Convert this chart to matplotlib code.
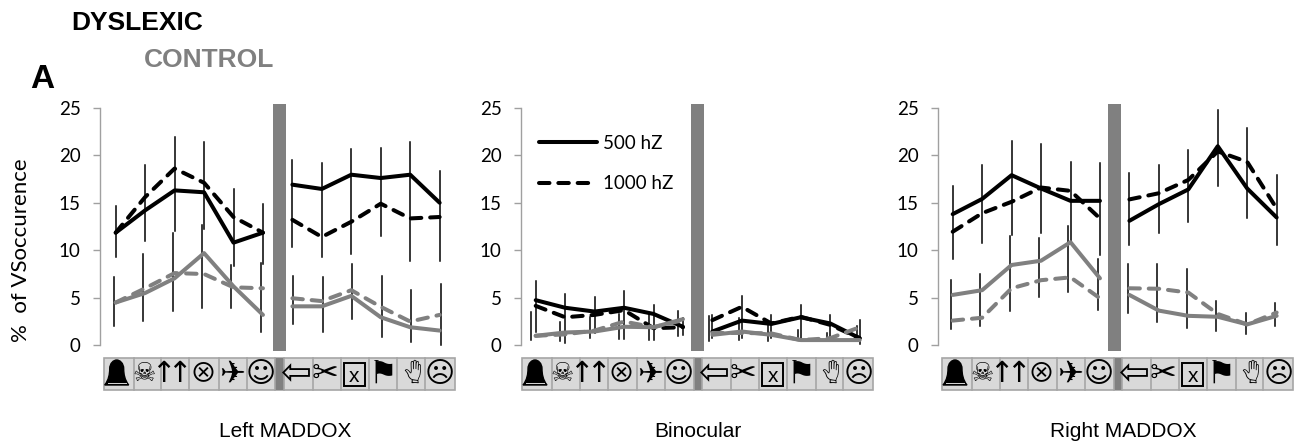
import matplotlib
matplotlib.use('Agg')
import matplotlib.pyplot as plt
from matplotlib.patches import Rectangle, PathPatch
from matplotlib.path import Path

W, H = 1296, 443
BLACK = '#000000'
GRAY = '#808080'

# values: 12 stimuli per panel (6 before and 6 after the gray divider)
left_500 = [11.85, 14.2, 16.3, 16.1, 10.8, 11.85, 16.9, 16.45, 17.95, 17.6, 17.95, 15.0]
left_1000 = [11.85, 15.6, 18.6, 17.1, 13.5, 11.85, 13.2, 11.4, 13.0, 14.9, 13.35, 13.5]
left_ctrl_500 = [4.5, 5.5, 7.05, 9.7, 6.2, 3.2, 4.1, 4.1, 5.2, 2.95, 1.9, 1.55]
left_ctrl_1000 = [4.5, 6.0, 7.6, 7.5, 6.1, 6.0, 4.95, 4.65, 5.8, 4.05, 2.5, 3.2]
left_err_lo = [9.25, 11.0, 12.0, 12.2, 8.3, 8.6, 10.3, 9.25, 9.6, 11.5, 8.9, 8.9]
left_err_hi = [14.7, 19.0, 21.9, 21.35, 16.4, 14.9, 19.5, 19.15, 20.7, 20.8, 21.35, 18.3]
left_ctrl_err_lo = [2.05, 2.6, 3.6, 3.95, 3.95, 1.35, 2.25, 1.35, 2.75, 0.85, 0.3, 0.0]
left_ctrl_err_hi = [7.15, 9.6, 11.8, 12.65, 8.45, 8.7, 7.3, 7.15, 8.55, 7.3, 5.8, 6.45]

bino_500 = [4.75, 3.95, 3.55, 3.95, 3.3, 1.95, 1.45, 2.6, 2.25, 2.95, 2.3, 0.75]
bino_1000 = [4.15, 2.95, 3.2, 3.7, 1.8, 1.9, 2.65, 4.05, 2.3, 3.0, 2.15, 0.75]
bino_ctrl_500 = [1.0, 1.35, 1.45, 1.95, 1.9, 2.75, 1.1, 1.45, 1.1, 0.55, 0.55, 0.55]
bino_ctrl_1000 = [1.0, 1.15, 1.55, 2.5, 1.9, 2.65, 1.3, 1.3, 1.25, 0.55, 0.75, 1.9]
bino_err_lo = [1.45, 0.2, 1.25, 0.65, 0.55, 1.1, 0.75, 0.75, 0.75, 0.75, 0.75, 0.15]
bino_err_hi = [6.8, 5.45, 5.1, 5.75, 4.25, 2.85, 3.2, 5.2, 3.2, 4.25, 3.2, 2.65]
bino_ctrl_err_lo = [0.6, 0.5, 0.8, 0.7, 0.6, 1.0, 0.5, 0.6, 0.5, 0.6, 0.6, 0.4]
bino_ctrl_err_hi = [3.5, 2.4, 3.0, 3.3, 3.3, 3.6, 3.1, 2.9, 2.5, 1.6, 1.3, 2.0]

right_500 = [13.8, 15.4, 17.9, 16.5, 15.2, 15.2, 13.1, 14.85, 16.4, 20.95, 16.5, 13.45]
right_1000 = [11.95, 13.9, 15.1, 16.6, 16.25, 13.35, 15.35, 16.0, 17.4, 20.4, 19.3, 14.4]
right_ctrl_500 = [5.3, 5.8, 8.45, 8.9, 10.85, 7.05, 5.3, 3.65, 3.1, 3.0, 2.2, 3.1]
right_ctrl_1000 = [2.6, 2.9, 6.0, 6.85, 7.15, 4.95, 6.0, 5.95, 5.55, 3.3, 2.2, 3.45]
right_err_lo = [9.05, 10.75, 11.6, 11.85, 11.0, 9.5, 10.55, 11.8, 13.0, 16.75, 13.35, 10.55]
right_err_hi = [16.75, 19.0, 21.5, 21.2, 19.3, 19.15, 18.1, 19.0, 20.5, 24.8, 22.9, 17.9]
right_ctrl_err_lo = [1.7, 2.05, 3.6, 5.1, 5.65, 3.7, 3.45, 2.4, 1.85, 1.55, 1.15, 2.05]
right_ctrl_err_hi = [6.85, 7.5, 11.5, 11.25, 12.5, 9.05, 8.55, 8.55, 8.0, 4.65, 3.35, 4.4]

panel_titles = ['Left MADDOX', 'Binocular', 'Right MADDOX']
y_ticks = [0, 5, 10, 15, 20, 25]
x_pos = list(range(12))

plt.rcParams['font.family'] = ['Liberation Sans', 'DejaVu Sans']
fig = plt.figure(figsize=(W / 100, H / 100), dpi=100)

STEP = 29.45
TOP, BOTTOM = 107.7, 345.3
DASH = (0, (2.6, 2.2))


def draw_panel(spine_px, first_px, bar_px, series, errs, ctrl_errs, shift):
    lo_x = -(first_px - spine_px) / STEP
    hi_x = 11.4
    ax = fig.add_axes([spine_px / W, 1 - BOTTOM / H, (hi_x - lo_x) * STEP / W, (BOTTOM - TOP) / H])
    ax.set_xlim(lo_x, hi_x)
    ax.set_ylim(0, 25)
    for side in ['top', 'right', 'bottom']:
        ax.spines[side].set_visible(False)
    ax.spines['left'].set_color('#a0a0a0')
    ax.spines['left'].set_linewidth(1.0)
    ax.set_xticks([])
    ax.set_yticks(y_ticks)
    ax.tick_params(axis='y', length=5, width=1.0, color='#a0a0a0', pad=9)
    for lab in ax.get_yticklabels():
        lab.set_fontfamily('Lato')
        lab.set_fontsize(13.5)

    # error bars
    for i in x_pos:
        ax.plot([i, i], [errs[0][i], errs[1][i]], color=BLACK, lw=1.1, clip_on=False, zorder=2)
        gx = i + (shift[0] if i < 6 else shift[1])
        ax.plot([gx, gx], [ctrl_errs[0][i], ctrl_errs[1][i]], color=BLACK, lw=1.1, clip_on=False, zorder=2)

    # 6 points on each side of the divider, no line across it
    for vals, col, dashed in series:
        for a, b in [(0, 6), (6, 12)]:
            line, = ax.plot(x_pos[a:b], vals[a:b], color=col, lw=2.9, clip_on=False, zorder=3,
                            solid_capstyle='round', solid_joinstyle='round')
            if dashed:
                line.set_linestyle(DASH)
                line.set_dash_capstyle('round')

    bar_x = (bar_px - first_px) / STEP
    ax.add_patch(Rectangle((bar_x - 6.6 / STEP, -0.65), 13.2 / STEP, 26.0, color=GRAY, clip_on=False, zorder=5, lw=0))
    return ax


draw_panel(100, 115.7, 279.5,
           [(left_ctrl_1000, GRAY, True), (left_ctrl_500, GRAY, False),
            (left_1000, BLACK, True), (left_500, BLACK, False)],
           (left_err_lo, left_err_hi), (left_ctrl_err_lo, left_ctrl_err_hi), (-0.07, 0.03))
draw_panel(521, 535.7, 697.7,
           [(bino_1000, BLACK, True), (bino_500, BLACK, False),
            (bino_ctrl_1000, GRAY, True), (bino_ctrl_500, GRAY, False)],
           (bino_err_lo, bino_err_hi), (bino_ctrl_err_lo, bino_ctrl_err_hi), (-0.16, -0.1))
draw_panel(938, 952.7, 1114.5,
           [(right_ctrl_1000, GRAY, True), (right_ctrl_500, GRAY, False),
            (right_1000, BLACK, True), (right_500, BLACK, False)],
           (right_err_lo, right_err_hi), (right_ctrl_err_lo, right_ctrl_err_hi), (-0.07, -0.05))

# overlay in pixel coordinates for the icon strips, legend and labels
ov = fig.add_axes([0, 0, 1, 1], zorder=10)
ov.set_xlim(0, W)
ov.set_ylim(H, 0)
ov.axis('off')
ov.patch.set_alpha(0)

cell_edges = [0, 29.7, 57.3, 85.3, 114.7, 142.7, 171.3, 180, 209, 237, 265, 293.3, 321, 351]
DJ = ['DejaVu Sans', 'Bona Nova SC', 'EB Garamond']
CJK = ['Noto Sans CJK SC', 'DejaVu Sans']
# offset, glyph, size in px, rotation, fonts
icons = [(40, '\u2620', 26, 0, DJ), (59, '\u2191', 29, 0, DJ), (75.5, '\u2191', 29, 0, DJ), (99, '\u2297', 27, 0, CJK),
         (128, '\u2708', 31, 0, DJ), (156.7, '\u263a', 29, 0, DJ), (192.7, '\u21e6', 37, 0, DJ), (221, '\u2702', 32, 0, DJ),
         (279, '\u2691', 32, 0, DJ), (307.7, '\u270b', 26, 0, DJ), (336, '\u2639', 29, 0, DJ)]


def draw_strip(x0):
    top, bot = 357.7, 390
    ov.add_patch(Rectangle((x0, top), 351, bot - top, fc='#d9d9d9', ec='#a6a6a6', lw=1.2))
    for e in cell_edges[1:-1]:
        ov.plot([x0 + e, x0 + e], [top, bot], color='#a6a6a6', lw=1.2)
    ov.add_patch(Rectangle((x0 + 171.3, top), 8.7, bot - top, fc=GRAY, lw=0))
    for off, glyph, size, rot, fonts in icons:
        ov.text(x0 + off, 374, glyph, family=fonts, fontsize=size * 0.72,
                rotation=rot, ha='center', va='center', color=BLACK)
    # boxed x
    ov.add_patch(Rectangle((x0 + 239.5, 363), 21.5, 23, fc='none', ec=BLACK, lw=1.4))
    ov.text(x0 + 250.3, 377, 'x', fontsize=15, ha='center', va='center')
    # bell has no glyph in the installed fonts
    cx = x0 + 12.7
    verts = [(cx - 12, 385), (cx - 8, 380), (cx - 7, 374), (cx - 7, 369), (cx - 7, 363), (cx - 3, 360), (cx, 360),
             (cx + 3, 360), (cx + 7, 363), (cx + 7, 369), (cx + 7, 374), (cx + 8, 380), (cx + 12, 385), (cx - 12, 385)]
    codes = [Path.MOVETO] + [Path.CURVE4] * 12 + [Path.CLOSEPOLY]
    ov.add_patch(PathPatch(Path(verts, codes), fc=BLACK, ec=BLACK, lw=1))
    ov.plot([cx - 9, cx + 9], [382.5, 382.5], color='#d9d9d9', lw=0.7)


for x0 in [104, 522.3, 942.3]:
    draw_strip(x0)

# legend inside the binocular panel
ov.plot([539, 597], [141.7, 141.7], color=BLACK, lw=2.9, solid_capstyle='round')
ov.plot([539, 592], [182.7, 182.7], color=BLACK, lw=2.9, linestyle=DASH, dash_capstyle='round')
ov.text(603, 143.5, '500 hZ', family='Lato', fontsize=13.5, va='center')
ov.text(603, 183.5, '1000 hZ', family='Lato', fontsize=13.5, va='center')

ov.text(71, 23, 'DYSLEXIC', fontweight='bold', fontsize=19, va='center', color=BLACK)
ov.text(144, 60, 'CONTROL', fontweight='bold', fontsize=19, va='center', color=GRAY)
ov.text(30, 79, 'A', fontweight='bold', fontsize=24, va='center', color=BLACK)
ov.text(21, 250, '%  of VSoccurence', family='Lato', fontsize=16, rotation=90, ha='center', va='center')

for cx, title in zip([285, 697.5, 1123], panel_titles):
    ov.text(cx, 431.5, title, fontsize=15, ha='center', va='center')

fig.savefig('out.png', dpi=100)
